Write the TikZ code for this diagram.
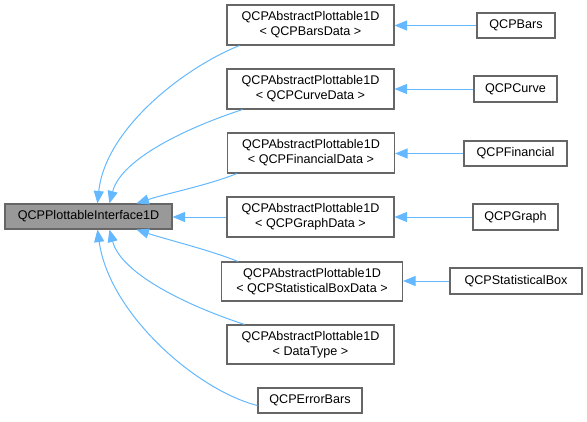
\documentclass[tikz,border=0pt]{standalone}
\usepackage{fontspec}
\setmainfont{Liberation Sans}
\usetikzlibrary{arrows.meta}
\definecolor{edgeblue}{HTML}{63B8FF}
\definecolor{boxline}{HTML}{666666}
\definecolor{rootfill}{HTML}{999999}
\tikzset{
  cls/.style={draw=boxline, line width=1.1pt, fill=white, inner sep=0pt, align=center,
    font=\fontsize{12.6}{15}\selectfont},
  rootcls/.style={cls, fill=rootfill},
  edge/.style={draw=edgeblue, line width=1pt, -{Triangle[length=12.5pt,width=10pt]}},
}
\begin{document}
\begin{tikzpicture}[x=1pt,y=-1pt]
\useasboundingbox (0,0) rectangle (587,421);
% root
\node[rootcls, minimum width=167pt, minimum height=25pt] (root) at (88.5,216.5) {QCPPlottableInterface1D};
% middle column
\node[cls, minimum width=167pt, minimum height=40pt] (a1) at (310.5,25) {QCPAbstractPlottable1D\\ < QCPBarsData >};
\node[cls, minimum width=167pt, minimum height=40pt] (a2) at (310.5,89) {QCPAbstractPlottable1D\\ < QCPCurveData >};
\node[cls, minimum width=167pt, minimum height=40pt] (a3) at (311,153) {QCPAbstractPlottable1D\\ < QCPFinancialData >};
\node[cls, minimum width=167pt, minimum height=40pt] (a4) at (310.5,217) {QCPAbstractPlottable1D\\ < QCPGraphData >};
\node[cls, minimum width=181pt, minimum height=39pt] (a5) at (312,281.5) {QCPAbstractPlottable1D\\ < QCPStatisticalBoxData >};
\node[cls, minimum width=167pt, minimum height=39pt] (a6) at (310.5,344.5) {QCPAbstractPlottable1D\\ < DataType >};
\node[cls, minimum width=104pt, minimum height=25pt] (eb) at (310,400.5) {QCPErrorBars};
% right column
\node[cls, minimum width=78pt, minimum height=25pt] (b1) at (516,25.5) {QCPBars};
\node[cls, minimum width=83pt, minimum height=26pt] (b2) at (515.5,89) {QCPCurve};
\node[cls, minimum width=103pt, minimum height=25pt] (b3) at (515.5,153.5) {QCPFinancial};
\node[cls, minimum width=85pt, minimum height=26pt] (b4) at (515.5,217) {QCPGraph};
\node[cls, minimum width=132pt, minimum height=26pt] (b5) at (516,281) {QCPStatisticalBox};
% edges to root
\draw[edge] ([xshift=13pt]a1.south west) .. controls +(-55,22) and +(8,-75) .. ([xshift=93pt]root.north west);
\draw[edge] ([xshift=16pt]a2.south west) .. controls +(-55,18) and +(12,-45) .. ([xshift=105pt]root.north west);
\draw[edge] ([xshift=10pt]a3.south west) .. controls +(-30,12) and +(30,-10) .. ([xshift=132pt]root.north west);
\draw[edge] (a4.west) -- (a4.west -| root.east);
\draw[edge] ([xshift=17pt]a5.north west) .. controls +(-30,-12) and +(30,10) .. ([xshift=132pt]root.south west);
\draw[edge] ([xshift=18pt]a6.north west) .. controls +(-55,-18) and +(12,45) .. ([xshift=105pt]root.south west);
\draw[edge] ([yshift=-5pt]eb.west) .. controls +(-60,-15) and +(12,85) .. ([xshift=93pt]root.south west);
% edges to middle
\draw[edge] (b1.west) -- (b1.west -| a1.east);
\draw[edge] (b2.west) -- (b2.west -| a2.east);
\draw[edge] (b3.west) -- (b3.west -| a3.east);
\draw[edge] (b4.west) -- (b4.west -| a4.east);
\draw[edge] (b5.west) -- (b5.west -| a5.east);
\end{tikzpicture}
\end{document}
